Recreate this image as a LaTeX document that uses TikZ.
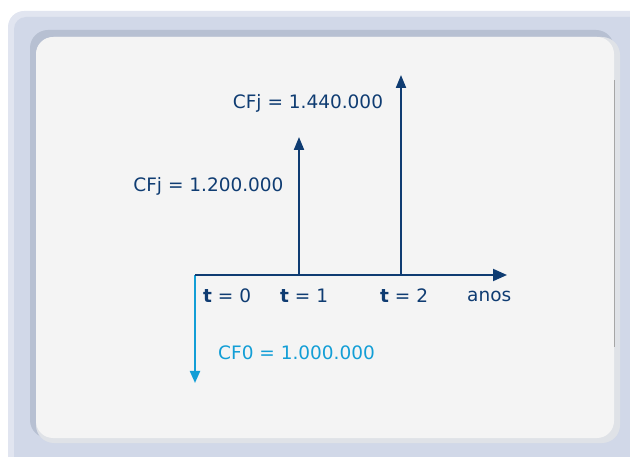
\documentclass[tikz,border=0pt]{standalone}
\usepackage{fontspec}
\setmainfont{DejaVu Sans}
\usetikzlibrary{arrows.meta}
\definecolor{navy}{HTML}{0F3C72}
\definecolor{cyanc}{HTML}{129ED6}
\definecolor{outerA}{HTML}{E1E5F0}
\definecolor{outerB}{HTML}{D1D8E8}
\definecolor{shadowD}{HTML}{B7C0D2}
\definecolor{shadowL}{HTML}{DFE2E7}
\definecolor{panel}{HTML}{F4F4F4}
\tikzset{
  lbl/.style={font=\fontsize{18.5}{22}\selectfont, inner sep=0pt, text=navy},
  cyanlbl/.style={font=\fontsize{18.5}{22}\selectfont, inner sep=0pt, text=cyanc},
  flow/.style={draw=navy, line width=2pt, -{Triangle[width=10pt,length=13pt]}},
  outflow/.style={draw=cyanc, line width=2pt, -{Triangle[width=10pt,length=12pt]}},
}
\begin{document}
\begin{tikzpicture}[x=1pt,y=-1pt]
\useasboundingbox (0,0) rectangle (630,457);
% frame
\fill[outerA, rounded corners=16pt] (8,11) rectangle (650,480);
\fill[outerB, rounded corners=12pt] (14,17) rectangle (650,480);
\fill[shadowD, rounded corners=18pt] (30,30) rectangle (614,438);
\fill[shadowL, rounded corners=18pt] (36,37) rectangle (620,443);
\fill[panel, rounded corners=17pt] (36,37) rectangle (614,438);
\draw[gray!70, line width=0.8pt] (614,80) -- (614,347);
% coordinates
\coordinate (o) at (195,275);
\coordinate (axend) at (507,275);
\coordinate (t1) at (299,275);
\coordinate (t2) at (401,275);
\coordinate (t1top) at (299,137);
\coordinate (t2top) at (401,75);
\coordinate (downend) at (195,383);
% axes and flows
\draw[outflow] (o) -- (downend);
\draw[draw=navy, line width=2pt, -{Triangle[width=12pt,length=14pt]}] (o) -- (axend);
\draw[flow] (t1) -- (t1top);
\draw[flow] (t2) -- (t2top);
% labels
\node[lbl] (l2) at (308,103) {CFj = 1.440.000};
\node[lbl] (l1) at (208.5,186) {CFj = 1.200.000};
\node[lbl, anchor=west] (t0l) at (203,296) {\textbf{t} = 0};
\node[lbl, anchor=west] (t1l) at (280,296) {\textbf{t} = 1};
\node[lbl, anchor=west] (t2l) at (380,296) {\textbf{t} = 2};
\node[lbl, anchor=west] (anos) at (467,296) {anos};
\node[cyanlbl, anchor=west] (cf0) at (218,353) {CF0 = 1.000.000};
\end{tikzpicture}
\end{document}
